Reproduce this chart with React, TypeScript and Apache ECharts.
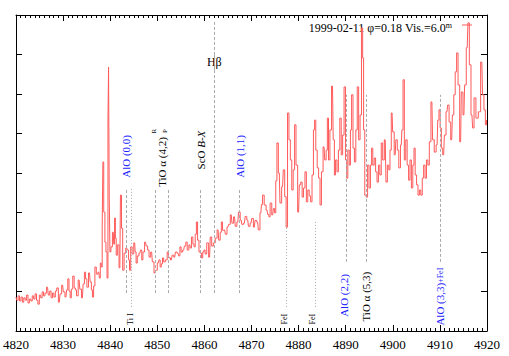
import React, { useEffect, useRef } from 'react';
import * as echarts from 'echarts';

// ---- spectrum (wavelength in Å, relative flux) ----
const wavelengths = [
  4820.0, 4820.3, 4820.6, 4820.9, 4821.2, 4821.5, 4821.8, 4822.1, 4822.4, 4822.7,
  4823.0, 4823.3, 4823.6, 4823.9, 4824.2, 4824.5, 4824.8, 4825.1, 4825.4, 4825.7,
  4826.0, 4826.3, 4826.7, 4827.0, 4827.3, 4827.6, 4827.9, 4828.2, 4828.5, 4828.8,
  4829.2, 4829.5, 4829.9, 4830.2, 4830.6, 4830.9, 4831.1, 4831.4, 4831.6, 4831.9,
  4832.2, 4832.5, 4832.7, 4833.0, 4833.4, 4833.7, 4834.1, 4834.4, 4834.65, 4834.9,
  4835.2, 4835.6, 4835.9, 4836.1, 4836.35, 4836.6, 4836.9, 4837.2, 4837.6, 4837.8,
  4838.0, 4838.2,
  4838.4, 4838.5, 4838.75, 4839.0, 4839.2, 4839.45, 4839.6, 4839.7, 4839.9, 4840.0,
  4840.3, 4840.65, 4840.85, 4841.0, 4841.2, 4841.35, 4841.7, 4842.05, 4842.3, 4842.5,
  4842.8, 4843.1, 4843.5, 4843.8, 4844.0, 4844.2, 4844.5, 4844.8, 4845.2, 4845.4,
  4845.6, 4845.9, 4846.3, 4846.6, 4846.8, 4847.1, 4847.5, 4847.8, 4848.1, 4848.4,
  4848.8, 4849.1, 4849.5, 4849.8, 4850.2, 4850.5, 4850.7, 4851.0, 4851.2, 4851.5,
  4851.9, 4852.3, 4852.6, 4853.0, 4853.3, 4853.7, 4854.0, 4854.4, 4854.7, 4854.9,
  4855.2, 4855.6, 4855.9, 4856.2, 4856.5, 4856.9, 4857.1, 4857.4, 4857.7, 4857.9,
  4858.2, 4858.4, 4858.7, 4859.0, 4859.3, 4859.5,
  4859.8, 4860.0, 4860.3, 4860.7, 4861.1, 4861.4, 4861.7, 4862.1, 4862.5, 4862.9,
  4863.2, 4863.5, 4863.7, 4864.0, 4864.3, 4864.6, 4865.0, 4865.3, 4865.7, 4866.0,
  4866.4, 4866.7, 4867.1, 4867.4, 4867.8, 4868.1, 4868.5, 4868.8, 4869.2, 4869.5,
  4869.9, 4870.2, 4870.6, 4870.9, 4871.3, 4871.6, 4872.0, 4872.2, 4872.5, 4872.9,
  4873.3, 4873.6, 4873.8, 4874.1, 4874.5, 4874.8, 4875.0, 4875.3, 4875.5, 4875.9,
  4876.2, 4876.6, 4876.9, 4877.2, 4877.5,
  4877.8, 4878.1, 4878.4, 4878.7, 4879.0, 4879.3, 4879.6, 4880.0, 4880.3, 4880.6,
  4880.9, 4881.2, 4881.5, 4881.8, 4882.1, 4882.4, 4882.7, 4883.0, 4883.3, 4883.5,
  4883.8, 4884.1, 4884.4, 4884.7, 4885.0, 4885.4, 4885.7, 4886.0, 4886.2, 4886.5,
  4886.8, 4887.2, 4887.5, 4887.7, 4888.0, 4888.3, 4888.6, 4888.9, 4889.2, 4889.5,
  4889.8, 4890.1, 4890.3, 4890.6, 4890.9, 4891.1, 4891.4, 4891.7, 4892.0, 4892.3,
  4892.6, 4892.9, 4893.2, 4893.5, 4893.7, 4893.9, 4894.2, 4894.5, 4894.8, 4895.1,
  4895.4, 4895.6, 4895.9, 4896.2, 4896.5, 4896.8, 4897.1, 4897.4, 4897.7, 4898.0,
  4898.4, 4898.7, 4899.0, 4899.3,
  4899.5, 4899.85, 4900.1, 4900.5, 4900.8, 4901.1, 4901.45, 4901.8, 4902.05, 4902.3,
  4902.6, 4902.9, 4903.2, 4903.5, 4903.8, 4904.1, 4904.4, 4904.6, 4904.9, 4905.2,
  4905.5, 4905.8, 4906.1, 4906.4, 4906.7, 4907.0, 4907.3, 4907.6, 4907.9, 4908.3,
  4908.6, 4909.0, 4909.4, 4909.7, 4909.9, 4910.2, 4910.4, 4910.8, 4911.1, 4911.5,
  4911.8, 4912.1, 4912.5, 4912.8, 4913.1, 4913.4, 4913.7, 4914.0, 4914.4, 4914.7,
  4915.1, 4915.4, 4915.8, 4916.1, 4916.4, 4916.8, 4917.1, 4917.4, 4917.9, 4918.4,
  4918.9, 4919.2, 4919.5, 4919.8, 4920.0,
];

const flux = [
  0.86, 0.78, 0.89, 0.76, 0.86, 0.73, 0.84, 0.78, 0.91, 0.71,
  0.81, 0.76, 0.89, 0.81, 0.94, 0.78, 0.68, 0.91, 0.84, 0.99,
  0.89, 0.96, 1.11, 0.91, 1.01, 0.84, 0.96, 0.86, 1.01, 1.09,
  0.73, 0.94, 1.16, 0.99, 0.86, 1.04, 1.32, 1.01, 0.84, 1.06,
  1.39, 1.09, 1.04, 0.89, 1.29, 1.06, 0.84, 1.19, 1.49, 1.32,
  1.11, 1.47, 1.24, 1.04, 0.86, 1.14, 1.62, 1.44, 1.49, 1.34,
  1.72, 1.62,
  2.68, 4.28, 3.01, 2.25, 2.00, 1.34, 5.29, 6.68, 3.37, 2.00,
  2.13, 2.50, 2.20, 2.86, 2.35, 1.92, 2.18, 1.60, 3.44, 2.60,
  1.54, 1.97, 2.10, 2.05, 1.80, 1.54, 2.13, 1.95, 2.23, 2.00,
  1.72, 1.90, 1.97, 2.05, 1.80, 2.00, 2.25, 2.15, 2.05, 1.87,
  2.00, 1.75, 1.47, 1.54, 1.72, 1.80, 1.62, 1.70, 1.85, 1.75,
  1.80, 2.00, 1.85, 1.80, 1.92, 1.87, 2.00, 1.97, 1.90, 2.13,
  2.00, 2.05, 2.15, 2.25, 2.05, 2.18, 2.10, 2.38, 2.20, 2.13,
  2.45, 2.76, 2.30, 2.00, 1.97, 1.85,
  2.00, 2.05, 1.95, 2.23, 1.87, 2.38, 2.15, 2.23, 2.35, 2.56,
  2.30, 2.50, 2.76, 2.55, 2.56, 2.45, 2.63, 2.70, 2.94, 2.73,
  2.89, 2.65, 2.76, 3.01, 2.81, 2.70, 2.73, 2.90, 2.81, 2.65,
  2.73, 2.85, 2.63, 2.80, 2.76, 2.56, 2.99, 3.20, 3.44, 3.19,
  3.06, 2.95, 2.89, 3.24, 2.94, 3.10, 2.99, 3.80, 4.76, 4.00,
  3.24, 3.65, 4.08, 3.40, 2.63,
  5.52, 4.84, 4.33, 3.57, 4.08, 5.22, 4.20, 3.01, 3.70, 3.77,
  3.39, 3.62, 4.03, 3.27, 3.57, 3.42, 3.27, 3.95, 5.09, 5.34,
  4.58, 4.13, 3.87, 3.19, 4.03, 4.66, 4.33, 4.58, 5.39, 4.33,
  5.09, 6.20, 4.84, 3.95, 4.33, 4.03, 4.58, 5.39, 4.46, 4.96,
  6.18, 4.33, 3.87, 4.58, 4.20, 5.09, 5.98, 4.63, 4.28, 5.09,
  6.18, 4.84, 5.47, 7.67, 6.91, 5.09, 3.44, 3.39, 4.20, 3.62,
  4.20, 4.63, 4.20, 4.38, 4.03, 3.77, 4.20, 3.95, 4.76, 4.33,
  4.84, 3.77, 4.20, 4.08,
  4.58, 5.52, 5.04, 4.46, 4.84, 4.58, 4.13, 4.71, 5.09, 6.36,
  4.33, 4.84, 4.20, 3.82, 4.33, 3.62, 4.20, 4.63, 3.95, 3.70,
  3.44, 3.57, 3.44, 3.87, 4.20, 3.87, 4.33, 4.20, 4.79, 5.80,
  4.84, 4.53, 4.71, 5.34, 5.60, 5.14, 4.63, 4.46, 4.96, 5.55,
  5.72, 5.29, 4.84, 5.47, 5.98, 6.56, 7.04, 6.23, 4.79, 6.05,
  5.47, 6.23, 7.17, 7.80, 6.74, 5.47, 5.14, 5.90, 5.39, 5.55,
  6.81, 5.98, 5.60, 5.22, 5.34,
];

// ---- identification marks (vertical guide lines) ----
const lineWavelengths = [4843.5, 4844.4, 4849.6, 4852.4, 4859.1, 4862.0, 4862.0, 4867.5, 4877.4, 4883.6, 4890.2, 4894.3, 4910.1];
const lineFrom = [0.96, 0.61, 0.96, 0.96, 0.96, 0.96, 6.61, 0.96, 0.61, 0.61, 1.75, 1.75, 1.75];
const lineTo = [3.60, 3.60, 3.60, 3.60, 3.60, 6.99, 7.87, 3.60, 2.81, 2.81, 5.98, 5.98, 5.98];
const lineDotted = [false, true, false, false, false, false, false, false, true, true, false, false, false];

// ---- labels ----
const labelTexts = ['{a|AlO (0,0)}', '{a|TiO α (4,2)}', '{a|ScO }{b|B-X}', '{a|AlO (1,1)}', '{a|AlO (2,2)}', '{a|TiO α (5,3)}', '{a|AlO (3,3)}{s|+FeI}'];
const labelWavelengths = [4843.4, 4851.1, 4859.3, 4867.6, 4889.6, 4894.3, 4910.1];
const labelLevels = [4.42, 4.28, 4.58, 4.42, 0.90, 0.87, 0.87];
const labelBlue = [true, false, false, true, true, false, true];

const smallLabelTexts = ['Ti I', 'FeI', 'FeI'];
const smallLabelWavelengths = [4844.4, 4877.1, 4883.0];
const smallLabelLevels = [0.30, 0.30, 0.30];

const branchTexts = ['R', 'P'];
const branchWavelengths = [4849.3, 4851.7];
const branchLevel = 5.06;

const hbText = 'Hβ';
const hbWavelength = 4862.1;
const hbLevel = 6.81;

const legendText = '1999-02-11 φ=0.18 Vis.=6.0';

const FONT = 'Liberation Serif';
const RED = '#ff5a5a';
const BLUE = '#2222ff';

export default function App() {
  const ref = useRef<HTMLDivElement>(null);
  useEffect(() => {
    const chart = echarts.init(ref.current!, null, { renderer: 'svg' });
    const data = wavelengths.map((w, i) => [w, flux[i]]);
    const axisCommon = {
      type: 'value',
      min: 4820,
      max: 4920,
      interval: 10,
      axisLine: { show: true, onZero: false, lineStyle: { color: '#000', width: 1 } },
      axisTick: { show: true, inside: true, length: 6, lineStyle: { color: '#000', width: 1 } },
      minorTick: { show: true, splitNumber: 10, length: 3, lineStyle: { color: '#000', width: 1 } },
      splitLine: { show: false },
    };
    const yCommon = {
      type: 'value',
      min: 0,
      max: 8,
      interval: 1,
      axisLine: { show: true, onZero: false, lineStyle: { color: '#000', width: 1 } },
      axisTick: { show: true, inside: true, length: 6, lineStyle: { color: '#000', width: 1 } },
      axisLabel: { show: false },
      splitLine: { show: false },
    };
    chart.setOption({
      animation: false,
      grid: { left: 14, right: 22, top: 15, bottom: 25 },
      xAxis: [
        {
          ...axisCommon,
          position: 'bottom',
          axisLabel: {
            color: '#000',
            fontFamily: FONT,
            fontSize: 13,
            margin: 7,
            formatter: (v: number) => String(v),
          },
        },
        { ...axisCommon, position: 'top', axisLabel: { show: false } },
      ],
      yAxis: [
        { ...yCommon, position: 'left' },
        { ...yCommon, position: 'right' },
      ],
      series: [
        {
          type: 'line',
          data,
          step: 'middle',
          symbol: 'none',
          showSymbol: false,
          lineStyle: { color: RED, width: 1 },
          z: 3,
          markLine: {
            silent: true,
            animation: false,
            symbol: ['none', 'none'],
            label: { show: false },
            lineStyle: { color: '#aaaaaa', type: [3, 2], width: 1 },
            data: lineWavelengths.map((w, i) => [
              {
                coord: [w, lineFrom[i]],
                lineStyle: { color: '#aaaaaa', width: 1, type: lineDotted[i] ? [1, 2] : [3, 2] },
              },
              { coord: [w, lineTo[i]] },
            ]),
          },
        },
      ],
    });

    const px = (w: number, v: number) =>
      chart.convertToPixel({ xAxisIndex: 0, yAxisIndex: 0 }, [w, v]) as number[];

    const graphic: any[] = [];
    labelTexts.forEach((t, i) => {
      const [x, y] = px(labelWavelengths[i], labelLevels[i]);
      const col = labelBlue[i] ? BLUE : '#000';
      graphic.push({
        type: 'text',
        x,
        y,
        rotation: Math.PI / 2,
        style: {
          text: t,
          fill: col,
          font: '11px ' + FONT,
          align: 'center',
          verticalAlign: 'middle',
          rich: {
            a: { fontFamily: FONT, fontSize: 11, fill: col },
            b: { fontFamily: FONT, fontSize: 11, fontStyle: 'italic', fill: col },
            s: { fontFamily: FONT, fontSize: 8, fill: col },
          },
        },
      });
    });
    smallLabelTexts.forEach((t, i) => {
      const [x, y] = px(smallLabelWavelengths[i], smallLabelLevels[i]);
      graphic.push({
        type: 'text',
        x,
        y,
        rotation: Math.PI / 2,
        style: { text: t, fill: '#000', font: '8px ' + FONT, align: 'center', verticalAlign: 'middle' },
      });
    });
    branchTexts.forEach((t, i) => {
      const [x, y] = px(branchWavelengths[i], branchLevel);
      graphic.push({
        type: 'text',
        x,
        y,
        rotation: Math.PI / 2,
        style: { text: t, fill: '#000', font: '7px ' + FONT, align: 'center', verticalAlign: 'middle' },
      });
    });
    {
      const [x, y] = px(hbWavelength, hbLevel);
      graphic.push({
        type: 'text',
        x,
        y,
        style: { text: hbText, fill: '#000', font: '12px ' + FONT, align: 'center', verticalAlign: 'middle' },
      });
    }
    // key
    graphic.push({
      type: 'text',
      right: 57,
      top: 21,
      style: {
        text: '{a|' + legendText + '}{m|m}',
        fill: '#000',
        font: '12px ' + FONT,
        rich: {
          a: { fontFamily: FONT, fontSize: 12, fill: '#000', lineHeight: 14 },
          m: { fontFamily: FONT, fontSize: 8, fill: '#000', verticalAlign: 'top', lineHeight: 14, padding: [0, 0, 8, 0] },
        },
      },
    });
    graphic.push({
      type: 'line',
      shape: { x1: 462, y1: 25, x2: 472, y2: 25 },
      style: { stroke: RED, lineWidth: 1 },
    });
    chart.setOption({ graphic });

    return () => chart.dispose();
  }, []);
  return (
    <div
      ref={ref}
      style={{ position: 'fixed', left: 0, top: 0, width: 509, height: 356, background: '#fff' }}
    />
  );
}
